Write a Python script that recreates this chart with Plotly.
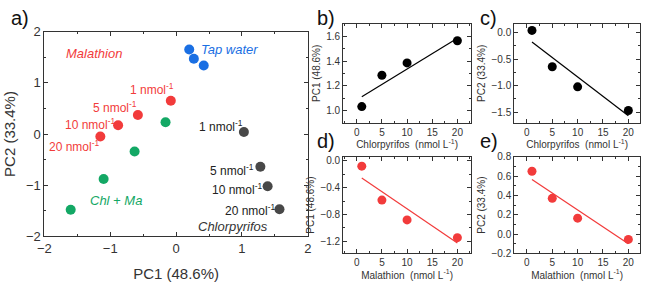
import plotly.graph_objects as go

W, H = 646, 288
FONT = "Liberation Sans, Arial, sans-serif"

# ---- Panel a data (PCA scores) ----
tap_x = [0.20, 0.27, 0.42]
tap_y = [1.65, 1.47, 1.34]
mal_x = [-0.08, -0.58, -0.88, -1.15]
mal_y = [0.65, 0.37, 0.17, -0.05]
mix_x = [-0.16, -0.63, -1.10, -1.60]
mix_y = [0.23, -0.34, -0.88, -1.48]
chl_x = [1.03, 1.28, 1.39, 1.57]
chl_y = [0.04, -0.64, -1.02, -1.47]
conc_labels = ["1 nmol<sup>-1</sup>", "5 nmol<sup>-1</sup>", "10 nmol<sup>-1</sup>", "20 nmol<sup>-1</sup>"]
mal_lab_x = [-0.37, -0.92, -1.30, -1.55]
mal_lab_y = [0.87, 0.52, 0.19, -0.23]
chl_lab_x = [0.68, 0.85, 0.93, 1.12]
chl_lab_y = [0.15, -0.70, -1.07, -1.49]

# ---- Panels b-e data ----
conc = [1, 5, 10, 20]
b_y = [1.03, 1.285, 1.385, 1.565]
c_y = [0.04, -0.645, -1.025, -1.47]
d_y = [-0.08, -0.585, -0.88, -1.145]
e_y = [0.65, 0.37, 0.165, -0.055]
fit_x = [1, 20]
b_fit = [1.11, 1.585]
c_fit = [-0.18, -1.57]
d_fit = [-0.255, -1.225]
e_fit = [0.565, -0.10]

BLUE = "#1a6fe3"
RED = "#f23b3b"
GREEN = "#13a865"
GRAY = "#484848"
BLACK = "#000000"

fig = go.Figure()

def sc(x, y, color, size, xa, ya):
    fig.add_trace(go.Scatter(x=x, y=y, mode="markers", xaxis=xa, yaxis=ya,
                             marker=dict(color=color, size=size, line=dict(width=0)),
                             showlegend=False, hoverinfo="skip"))

def ln(x, y, color, xa, ya):
    fig.add_trace(go.Scatter(x=x, y=y, mode="lines", xaxis=xa, yaxis=ya,
                             line=dict(color=color, width=1.2),
                             showlegend=False, hoverinfo="skip"))

sc(tap_x, tap_y, BLUE, 10, "x", "y")
sc(mal_x, mal_y, RED, 10, "x", "y")
sc(mix_x, mix_y, GREEN, 10, "x", "y")
sc(chl_x, chl_y, GRAY, 10, "x", "y")

ln(fit_x, b_fit, BLACK, "x2", "y2")
sc(conc, b_y, BLACK, 9, "x2", "y2")
ln(fit_x, c_fit, BLACK, "x3", "y3")
sc(conc, c_y, BLACK, 9, "x3", "y3")
ln(fit_x, d_fit, RED, "x4", "y4")
sc(conc, d_y, RED, 9, "x4", "y4")
ln(fit_x, e_fit, RED, "x5", "y5")
sc(conc, e_y, RED, 9, "x5", "y5")

def px(x0, x1):
    return [x0 / W, x1 / W]

def py(top, bottom):
    return [1 - bottom / H, 1 - top / H]

def ax(domain, rng, dtick, minor, fs, title, tfs, anchor, fmt=None, standoff=None):
    d = dict(domain=domain, range=rng, dtick=dtick, tick0=0, anchor=anchor,
             showgrid=False, zeroline=False, showline=True, linecolor="#333333",
             linewidth=1, mirror="allticks", ticks="inside", ticklen=4,
             tickcolor="#333333", tickfont=dict(size=fs, color="#333333", family=FONT),
             minor=dict(dtick=minor, ticks="inside", ticklen=2, tickcolor="#333333"),
             title=dict(text=title, font=dict(size=tfs, color="#333333", family=FONT)))
    if fmt:
        d["tickformat"] = fmt
    if standoff is not None:
        d["title"]["standoff"] = standoff
    return d

A_X = px(38, 306); A_Y = py(26, 242)
L_X = px(342, 472); R_X = px(516, 644)
T_Y = py(18, 122); B_Y = py(158, 260)

fig.update_layout(
    width=W, height=H, margin=dict(l=0, r=0, t=0, b=0),
    paper_bgcolor="white", plot_bgcolor="white",
    font=dict(family=FONT),
    xaxis=ax(A_X, [-2, 2], 1, 0.5, 13, "PC1 (48.6%)", 15, "y", standoff=13),
    yaxis=ax(A_Y, [-2, 2], 1, 0.5, 13, "PC2 (33.4%)", 15, "x", standoff=6),
    xaxis2=ax(L_X, [-2.7, 22.7], 5, 2.5, 10, "Chlorpyrifos  (nmol L<sup>-1</sup>)", 10, "y2", standoff=3),
    yaxis2=ax(T_Y, [0.9, 1.7], 0.2, 0.1, 10, "PC1 (48.6%)", 10, "x2", fmt=".1f", standoff=3),
    xaxis3=ax(R_X, [-2.5, 22.3], 5, 2.5, 10, "Chlorpyrifos  (nmol L<sup>-1</sup>)", 10, "y3", standoff=3),
    yaxis3=ax(T_Y, [-1.7, 0.16], 0.5, 0.25, 10, "PC2 (33.4%)", 10, "x3", fmt=".1f", standoff=3),
    xaxis4=ax(L_X, [-2.7, 22.7], 5, 2.5, 10, "Malathion  (nmol L<sup>-1</sup>)", 10, "y4", standoff=3),
    yaxis4=ax(B_Y, [-1.38, 0.06], 0.4, 0.2, 10, "PC1 (48.6%)", 10, "x4", fmt=".1f", standoff=3),
    xaxis5=ax(R_X, [-2.5, 22.3], 5, 2.5, 10, "Malathion  (nmol L<sup>-1</sup>)", 10, "y5", standoff=3),
    yaxis5=ax(B_Y, [-0.2, 0.8], 0.2, 0.1, 10, "PC2 (33.4%)", 10, "x5", fmt=".1f", standoff=3),
)

ann = []
def t(x, y, text, color, size, italic=False, xref="x", yref="y", xanchor="center", yanchor="middle"):
    ann.append(dict(x=x, y=y, xref=xref, yref=yref, text=text, showarrow=False,
                    xanchor=xanchor, yanchor=yanchor,
                    font=dict(size=size, color=color, family=FONT,
                              style="italic" if italic else "normal")))

t(-1.24, 1.57, "Malathion", RED, 13, True)
t(0.81, 1.66, "Tap water", BLUE, 13, True)
t(0.86, -1.80, "Chlorpyrifos", "#333333", 13, True)
t(-0.91, -1.30, "Chl + Ma", GREEN, 13, True)
for i in range(4):
    t(mal_lab_x[i], mal_lab_y[i], conc_labels[i], RED, 12)
    t(chl_lab_x[i], chl_lab_y[i], conc_labels[i], "#222222", 12)

for lab, x, y in [("a)", 2, -2), ("b)", 313, -2), ("c)", 479, -2), ("d)", 313, 128), ("e)", 479, 128)]:
    t(x / W, 1 - y / H, lab, "#111111", 20, xref="paper", yref="paper", xanchor="left", yanchor="top")

fig.update_layout(annotations=ann)
fig.write_html("out.html")
